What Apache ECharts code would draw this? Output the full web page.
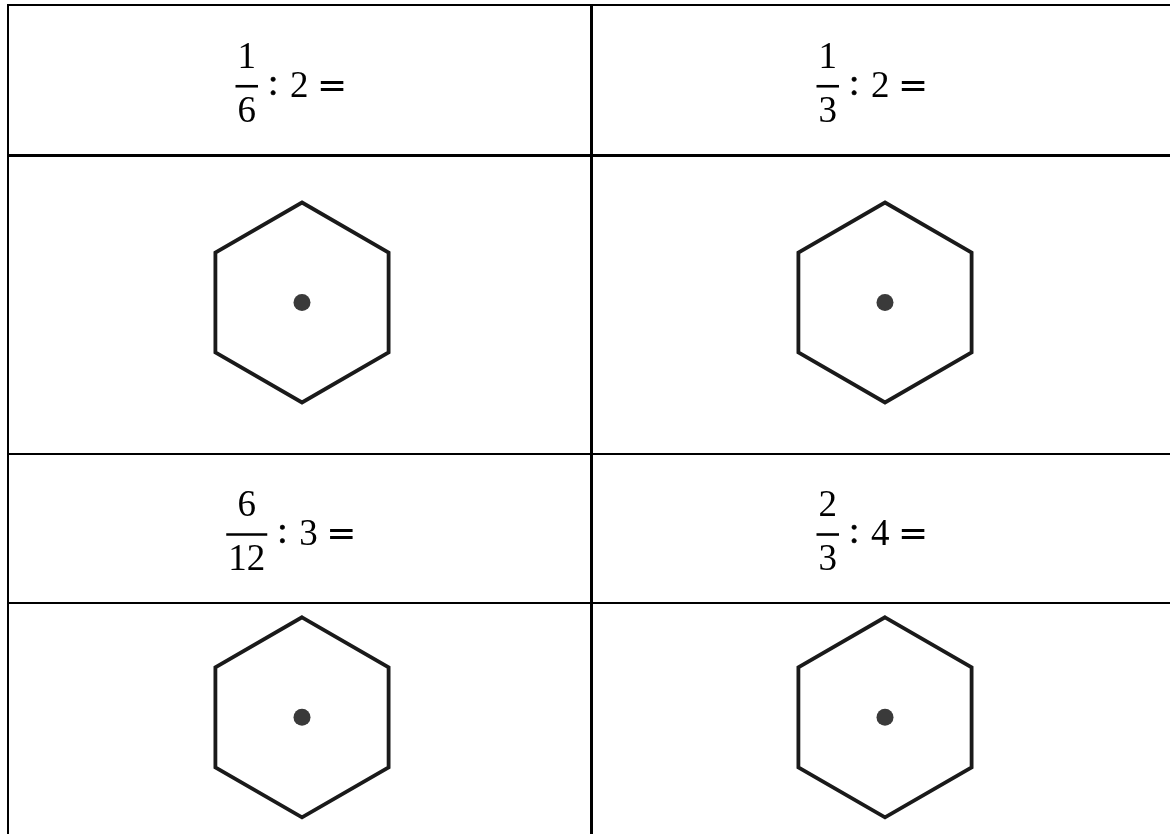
<!DOCTYPE html>
<html>
<head>
<meta charset="utf-8">
<script src="https://cdn.jsdelivr.net/npm/echarts@6.0.0/dist/echarts.min.js"></script>
<style>
  html, body { margin: 0; padding: 0; background: #ffffff; }
  #chart { width: 1170px; height: 834px; }
</style>
</head>
<body>
<div id="chart"></div>
<script>
// ---- DATA (content of the four exercise cells, reading order) ----
const numerators   = [1, 1, 6, 2];
const denominators = [6, 3, 12, 3];
const divisors     = [2, 2, 3, 4];
// one hexagon figure (with its centre dot) per exercise
const figures = ['hexagon', 'hexagon', 'hexagon', 'hexagon'];

// ---- LAYOUT (kept apart from the data) ----
const W = 1170, H = 834;
const COL_EDGES = [8, 591.5, 1170];
const ROW_EDGES = [5, 155.5, 454, 603, 834];
const ROW_LINE_W = [2, 3, 2, 2];
const EXPR_ROWS = [0, 2];          // table rows holding the expressions
const HEX_CX = [302, 885];
const HEX_CY = [302.5, 717.3];
const HEX_R = 100;
const DOT_R = 8.5;
const FONT_SIZE = 37;
const SERIF = '"Liberation Serif", "Times New Roman", serif';
const SANS = '"DejaVu Sans", sans-serif';

const measureCtx = document.createElement('canvas').getContext('2d');
function textWidth(t, font) { measureCtx.font = font; return measureCtx.measureText(t).width; }

// table line segments built from the layout
const segments = [];
ROW_EDGES.slice(0, 4).forEach((y, i) => segments.push([7, y, W, y, ROW_LINE_W[i]]));
segments.push([COL_EDGES[0], 4, COL_EDGES[0], H, 2]);
segments.push([COL_EDGES[1], 4, COL_EDGES[1], H, 3]);

const chart = echarts.init(document.getElementById('chart'), null, { renderer: 'canvas' });

chart.setOption({
  animation: false,
  backgroundColor: '#ffffff',
  grid: { left: 0, right: 0, top: 0, bottom: 0 },
  xAxis: { type: 'value', min: 0, max: W, show: false },
  yAxis: { type: 'value', min: 0, max: H, inverse: true, show: false },
  series: [
    {
      name: 'table',
      type: 'custom',
      coordinateSystem: 'cartesian2d',
      clip: false,
      silent: true,
      data: segments.map((s, i) => [i]),
      renderItem: function (params, api) {
        const s = segments[params.dataIndex];
        const p1 = api.coord([s[0], s[1]]);
        const p2 = api.coord([s[2], s[3]]);
        return {
          type: 'line',
          shape: { x1: p1[0], y1: p1[1], x2: p2[0], y2: p2[1] },
          style: { stroke: '#000000', lineWidth: s[4] }
        };
      }
    },
    {
      name: 'expressions',
      type: 'custom',
      coordinateSystem: 'cartesian2d',
      clip: false,
      silent: true,
      data: numerators.map((n, i) => [i, n, denominators[i], divisors[i]]),
      renderItem: function (params, api) {
        const i = api.value(0);
        const num = String(api.value(1));
        const den = String(api.value(2));
        const div = String(api.value(3));
        const c = i % 2;
        const r = EXPR_ROWS[Math.floor(i / 2)];
        const cx = (COL_EDGES[c] + COL_EDGES[c + 1]) / 2;
        const cy = (ROW_EDGES[r] + ROW_EDGES[r + 1]) / 2;
        const font = FONT_SIZE + 'px ' + SERIF;
        const eqFont = (FONT_SIZE - 1) + 'px ' + SANS;
        const barW = Math.max(textWidth(num, font), textWidth(den, font)) + 4;
        const total = barW + 88;
        const x0 = cx - 9 - total / 2;
        const barY = cy + 6;
        const fx = x0 + barW / 2;
        const P = (x, y) => api.coord([x, y]);
        const children = [];
        const b1 = P(x0, barY), b2 = P(x0 + barW, barY);
        children.push({ type: 'line', shape: { x1: b1[0], y1: b1[1], x2: b2[0], y2: b2[1] },
          style: { stroke: '#000', lineWidth: 2.6 } });
        const pn = P(fx, barY - 28);
        children.push({ type: 'text', x: pn[0], y: pn[1],
          style: { text: num, font: font, fill: '#000', align: 'center', verticalAlign: 'middle' } });
        const pd = P(fx, barY + 26);
        children.push({ type: 'text', x: pd[0], y: pd[1],
          style: { text: den, font: font, fill: '#000', align: 'center', verticalAlign: 'middle' } });
        const pc = P(x0 + barW + 10, barY - 1);
        children.push({ type: 'text', x: pc[0], y: pc[1],
          style: { text: ':', font: font, fill: '#000', stroke: '#000', lineWidth: 0.6,
                   align: 'left', verticalAlign: 'middle' } });
        const pv = P(x0 + barW + 32, barY + 1);
        children.push({ type: 'text', x: pv[0], y: pv[1],
          style: { text: div, font: font, fill: '#000', align: 'left', verticalAlign: 'middle' } });
        const pe = P(x0 + barW + 59, barY + 1);
        children.push({ type: 'text', x: pe[0], y: pe[1],
          style: { text: '=', font: eqFont, fill: '#000', align: 'left', verticalAlign: 'middle' } });
        return { type: 'group', children: children };
      }
    },
    {
      name: 'figures',
      type: 'custom',
      coordinateSystem: 'cartesian2d',
      clip: false,
      silent: true,
      data: figures.map((f, i) => [i]),
      renderItem: function (params, api) {
        const i = api.value(0);
        const hx = HEX_CX[i % 2];
        const hy = HEX_CY[Math.floor(i / 2)];
        const pts = [];
        for (let k = 0; k < 6; k++) {
          const a = (-90 + 60 * k) * Math.PI / 180;
          pts.push(api.coord([hx + HEX_R * Math.cos(a), hy + HEX_R * Math.sin(a)]));
        }
        const c = api.coord([hx, hy]);
        const sz = api.size([DOT_R, DOT_R]);
        return {
          type: 'group',
          children: [
            { type: 'polygon', shape: { points: pts },
              style: { fill: 'none', stroke: '#1a1a1a', lineWidth: 3.8, lineJoin: 'miter' } },
            { type: 'circle', shape: { cx: c[0], cy: c[1], r: sz[0] },
              style: { fill: '#3a3a3a', stroke: null } }
          ]
        };
      }
    }
  ]
});
</script>
</body>
</html>
